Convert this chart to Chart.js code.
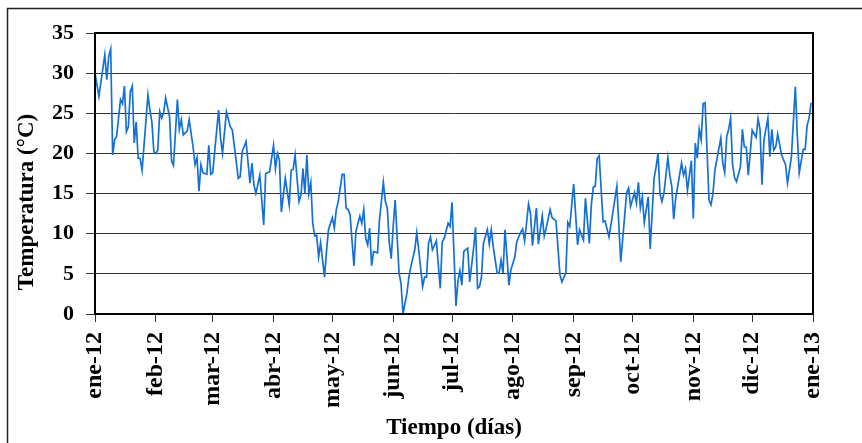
<!DOCTYPE html>
<html>
<head>
<meta charset="utf-8">
<script src="https://cdn.jsdelivr.net/npm/chart.js@4.4.1/dist/chart.umd.min.js"></script>
<style>
  html, body { margin: 0; padding: 0; background: #fff; }
  canvas { display: block; }
</style>
</head>
<body>
<canvas id="tempChart" width="862" height="443"></canvas>
<script>
// Daily temperature, 2012 (day 0 = 1 Jan)
const days = [
  0, 2, 5, 6, 7, 8, 9, 10, 11, 13, 14, 15, 16, 17, 18, 19, 20, 21, 22, 23, 24, 27, 28, 29, 30, 31, 32, 33, 34, 35, 36, 38, 39, 40,
  42, 43, 44, 45, 47, 48, 50, 51, 52, 53, 54, 55, 57, 58, 59, 60, 63, 64, 65, 67, 69, 70, 72, 73, 74, 75, 77, 79, 80, 81, 82, 84,
  86, 87, 89, 91, 92, 93, 94, 95, 97, 99, 100, 101, 102, 104, 105, 106, 107, 108, 109, 110, 111, 112, 113, 114, 115, 117, 118, 119,
  121, 122, 123, 124, 126, 127, 128, 129, 130, 132, 133, 135, 136, 137, 138, 139, 140, 141, 142, 144, 145, 147, 148, 149, 150, 151,
  152, 153, 155, 156, 157, 159, 160, 161, 163, 164, 165, 167, 168, 169, 170, 171, 172, 174, 176, 177, 178, 180, 181, 182,
  184, 185, 186, 187, 188, 190, 191, 193, 194, 195, 196, 197, 198, 200, 201, 202, 203, 205, 206, 207, 208, 209, 210, 211, 212,
  214, 215, 217, 218, 219, 221, 222, 223, 225, 226, 228, 229, 230, 232, 233, 235, 237, 238, 240, 241, 242,
  244, 246, 247, 249, 250, 252, 253, 254, 255, 256, 257, 259, 260, 262, 263, 266, 268, 271, 272, 273,
  275, 276, 277, 278, 279, 280, 281, 282, 283, 285, 286, 287, 288, 289, 290, 292, 293, 294, 295, 296, 299, 300, 301, 302, 304,
  305, 306, 307, 308, 309, 310, 311, 313, 314, 315, 316, 319, 320, 321, 322, 323, 324, 325, 326, 327, 329, 330, 331, 332, 333, 334,
  335, 337, 338, 339, 340, 341, 343, 344, 345, 346, 347, 348, 350, 352, 353, 355, 357, 358, 359, 361, 362, 363, 364, 365
];
const temps = [
  30.0, 27.1, 32.3, 29.2, 32.1, 33.0, 19.8, 21.7, 22.1, 26.7, 26.2, 28.4, 22.7, 23.3, 27.7, 28.4, 21.3, 23.9, 19.4, 19.4, 17.9, 27.3, 25.4, 23.9, 20.2, 20.0, 20.4, 25.2, 24.4, 25.1, 26.9, 24.6, 19.1, 18.5,
  26.7, 23.0, 24.2, 22.3, 22.8, 24.2, 20.8, 18.6, 19.5, 15.3, 18.6, 17.6, 17.4, 21.0, 17.4, 17.6, 25.4, 21.9, 20.0, 25.2, 23.3, 22.9, 19.0, 16.9, 17.1, 20.2, 21.5, 16.3, 18.8, 16.1, 15.0, 17.3,
  11.1, 17.5, 17.7, 21.0, 18.1, 20.0, 19.2, 12.7, 16.9, 13.6, 17.9, 18.0, 19.8, 14.0, 14.8, 18.1, 15.0, 19.8, 15.0, 16.4, 11.3, 9.7, 9.8, 7.1, 8.9, 4.6, 7.8, 10.5,
  12.0, 10.7, 13.0, 14.0, 17.4, 17.4, 13.2, 13.0, 12.4, 6.0, 10.3, 12.2, 11.3, 13.0, 9.4, 8.6, 10.7, 6.0, 7.8, 7.6, 11.7, 16.4, 14.0, 13.2, 8.9, 6.9,
  10.9, 14.2, 5.1, 3.8, 0.0, 2.6, 4.6, 5.9, 8.0, 10.1, 8.0, 3.4, 4.6, 4.6, 8.8, 9.6, 8.0, 9.1, 3.2, 9.0, 9.4, 11.3, 10.9, 13.9,
  1.0, 4.1, 5.4, 3.6, 7.8, 8.2, 4.0, 8.2, 10.8, 3.2, 3.4, 4.6, 8.8, 10.5, 8.7, 10.5, 8.4, 5.1, 5.1, 6.7, 5.1, 10.5, 7.2, 3.6, 5.5,
  7.1, 9.0, 10.2, 10.6, 9.1, 13.7, 12.5, 8.5, 13.2, 8.7, 12.2, 9.7, 10.7, 13.0, 12.0, 11.6, 4.9, 4.0, 5.1, 11.4, 10.9,
  16.2, 8.6, 10.5, 9.2, 14.4, 8.8, 13.6, 15.8, 15.9, 19.4, 19.7, 11.5, 11.6, 9.6, 11.1, 15.9, 6.5, 15.1, 15.7, 13.4,
  15.1, 13.8, 16.4, 13.2, 14.6, 11.4, 13.0, 14.6, 8.1, 16.9, 18.3, 20.0, 15.0, 14.0, 15.0, 19.5, 17.3, 15.9, 11.8, 14.4, 18.8, 17.3, 18.1, 15.4, 19.1,
  11.9, 21.3, 19.4, 23.0, 21.7, 26.2, 26.3, 14.2, 13.6, 15.0, 17.9, 21.9, 18.8, 17.6, 22.1, 23.0, 24.4, 18.6, 17.0, 16.5, 18.3, 23.0, 20.8, 20.8, 17.3, 20.0,
  22.9, 22.0, 24.3, 23.0, 16.1, 21.7, 24.4, 19.6, 23.0, 20.4, 20.8, 22.4, 19.8, 18.6, 16.3, 19.6, 28.3, 22.2, 17.6, 20.5, 20.5, 23.5, 24.4, 26.3
];

// Month starts (days from 1 Jan 2012) and their labels
const monthTicks = [0, 31, 60, 91, 121, 152, 182, 213, 244, 274, 305, 335, 366];
const monthLabels = ['ene-12', 'feb-12', 'mar-12', 'abr-12', 'may-12', 'jun-12', 'jul-12',
  'ago-12', 'sep-12', 'oct-12', 'nov-12', 'dic-12', 'ene-13'];
const tempTicks = [0, 5, 10, 15, 20, 25, 30, 35];

const serif = "'Liberation Serif', 'Times New Roman', serif";
Chart.defaults.font.family = serif;
Chart.defaults.color = '#000';

// Plot box, outer frame and rotated y title
const framePlugin = {
  id: 'frame',
  afterDraw(chart) {
    const { ctx, chartArea: a } = chart;
    ctx.save();
    ctx.strokeStyle = '#000';
    ctx.lineWidth = 2;
    ctx.strokeRect(a.left, a.top, a.right - a.left, a.bottom - a.top);

    ctx.strokeStyle = '#222';
    ctx.lineWidth = 1.5;
    ctx.beginPath();
    ctx.moveTo(7.5, 443);
    ctx.lineTo(7.5, 8.5);
    ctx.lineTo(862, 8.5);
    ctx.stroke();

    ctx.translate(27, 202);
    ctx.rotate(-Math.PI / 2);
    ctx.textAlign = 'center';
    ctx.textBaseline = 'middle';
    ctx.fillStyle = '#000';
    ctx.font = 'bold 23px ' + serif;
    ctx.fillText('Temperatura (°C)', 0, 0);
    ctx.restore();
  }
};

new Chart(document.getElementById('tempChart'), {
  type: 'line',
  data: {
    datasets: [{
      data: days.map((d, i) => ({ x: d, y: temps[i] })),
      borderColor: '#1470d6',
      borderWidth: 1.7,
      pointRadius: 0,
      tension: 0,
      fill: false
    }]
  },
  options: {
    responsive: false,
    animation: false,
    devicePixelRatio: 1,
    layout: { padding: { top: 33, right: 49, left: 0, bottom: 0 } },
    plugins: { legend: { display: false }, tooltip: { enabled: false } },
    scales: {
      x: {
        type: 'linear',
        min: 0,
        max: 366,
        afterBuildTicks: s => { s.ticks = monthTicks.map(v => ({ value: v })); },
        afterFit: s => { s.height = 129; },
        grid: { drawOnChartArea: false, drawTicks: true, tickLength: 8, color: '#333', lineWidth: 1 },
        border: { color: '#000', width: 2 },
        ticks: {
          autoSkip: false,
          maxRotation: 90,
          minRotation: 90,
          padding: 10,
          font: { size: 24, weight: 'bold' },
          callback: (v, i) => monthLabels[i]
        },
        title: {
          display: true,
          text: 'Tiempo (días)',
          font: { size: 23, weight: 'bold' },
          padding: { top: 0, bottom: 1 }
        }
      },
      y: {
        min: 0,
        max: 35,
        afterBuildTicks: s => { s.ticks = tempTicks.map(v => ({ value: v })); },
        afterFit: s => { s.width = 95; },
        grid: { color: '#333', lineWidth: 1, tickLength: 9 },
        border: { color: '#000', width: 2 },
        ticks: { padding: 12, font: { size: 22, weight: 'bold' } }
      }
    }
  },
  plugins: [framePlugin]
});
</script>
</body>
</html>
